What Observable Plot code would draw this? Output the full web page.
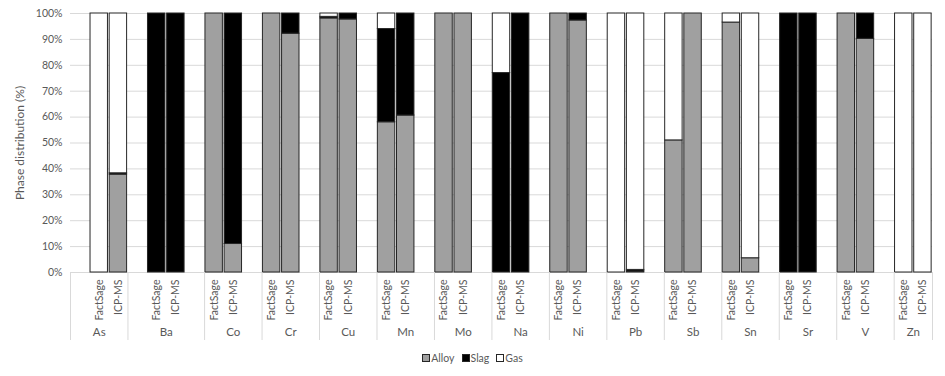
<!DOCTYPE html>
<html><head><meta charset="utf-8">
<script src="https://cdn.jsdelivr.net/npm/d3@7"></script>
<script src="https://cdn.jsdelivr.net/npm/@observablehq/plot@0.6"></script>
<style>
body{margin:0;background:#fff;font-family:Lato, sans-serif;}
#legend{display:flex;justify-content:center;align-items:center;gap:7px;font-size:10.5px;color:#595959;height:24px;}
#legend .item{display:flex;align-items:center;gap:1px;}
#legend .sw{width:6px;height:6px;border:1px solid #262626;display:inline-block;}
</style></head><body><div id="chart"></div><div id="legend"></div>
<script>
// Categories (outer level) and sub-categories (inner level)
const elements = ["As","Ba","Co","Cr","Cu","Mn","Mo","Na","Ni","Pb","Sb","Sn","Sr","V","Zn"];
const methods = ["FactSage","ICP-MS"];
// Spreadsheet row on which each outer label sits (rows: blank, FactSage, ICP-MS per element)
const groupStartRow = [0,3,7,10,13,16,19,22,25,28,31,34,37,40,43];
const totalRows = 45;
const phases = ["Alloy","Slag","Gas"];
const phaseColors = ["#a0a0a0","#000000","#ffffff"];
const yTicks = [0,10,20,30,40,50,60,70,80,90,100];

// Phase distribution (%)
const factSageAlloy = [0,0,100,100,98.1,58,100,0,100,0,51,96.5,0,100,0];
const factSageSlag  = [0,100,0,0,0.6,36,0,77,0,0,0,0,100,0,0];
const factSageGas   = [100,0,0,0,1.3,6,0,23,0,100,49,3.5,0,0,100];
const icpAlloy = [37.8,0,11,92.2,97.7,60.6,100,0,97.3,0.4,100,5.5,0,90.2,0];
const icpSlag  = [0.5,100,89,7.8,2.3,39.4,0,100,2.7,0.6,0,0,100,9.8,0];
const icpGas   = [61.7,0,0,0,0,0,0,0,0,99,0,94.5,0,0,100];

// Build table: each element occupies rows [blank, FactSage, ICP-MS]
const pad = 0.045;
const rows = [];
const ticks = [];
elements.forEach((el, i) => {
  const sets = [[factSageAlloy[i], factSageSlag[i], factSageGas[i]],
                [icpAlloy[i], icpSlag[i], icpGas[i]]];
  sets.forEach((vals, m) => {
    const slot = 3 * i + 1 + m;
    ticks.push({pos: slot + 0.5, label: methods[m]});
    let acc = 0;
    phases.forEach((p, j) => {
      if (vals[j] > 0) rows.push({x1: slot + pad, x2: slot + 1 - pad, y1: acc, y2: acc + vals[j], phase: p});
      acc += vals[j];
    });
  });
});
const groups = elements.map((el, i) => ({
  name: el, start: groupStartRow[i],
  end: i + 1 < elements.length ? groupStartRow[i + 1] : totalRows
}));
const boundaries = [...groupStartRow, totalRows];

const chart = Plot.plot({
  width: 945, height: 346,
  marginLeft: 70, marginRight: 13, marginTop: 13, marginBottom: 74,
  style: {fontFamily: "Lato, sans-serif", color: "#595959", background: "#fff"},
  x: {domain: [0, totalRows]},
  y: {domain: [0, 100]},
  color: {domain: phases, range: phaseColors},
  marks: [
    Plot.gridY(yTicks, {stroke: "#d9d9d9", strokeOpacity: 1}),
    Plot.axisY(yTicks, {tickSize: 0, tickPadding: 8, tickFormat: d => d + "%", fontSize: 10.5, label: null}),
    Plot.axisY([], {tickSize: 0, fontSize: 12, label: "Phase distribution (%)", labelAnchor: "center",
      labelArrow: "none", labelOffset: 55}),
    Plot.rect(rows, {x1: "x1", x2: "x2", y1: "y1", y2: "y2", fill: "phase", stroke: "#262626", strokeWidth: 1}),
    Plot.axisX(ticks.map(d => d.pos), {tickSize: 0, tickPadding: 7, tickRotate: -90, fontSize: 10.5,
      tickFormat: (d, i) => ticks[i].label, label: null}),
    Plot.ruleX(boundaries, {x: d => d, y1: 0, y2: 0, insetBottom: -68, stroke: "#d9d9d9"}),
    Plot.text(groups, {x: d => (d.start + d.end) / 2, text: "name", frameAnchor: "bottom", dy: 63, fontSize: 11.5, fill: "#595959"})
  ]
});
document.getElementById("chart").appendChild(chart);

// legend
const lg = d3.select("#legend");
phases.forEach((p, i) => {
  const it = lg.append("span").attr("class", "item");
  it.append("span").attr("class", "sw").style("background", phaseColors[i]);
  it.append("span").text(p);
});
</script></body></html>
